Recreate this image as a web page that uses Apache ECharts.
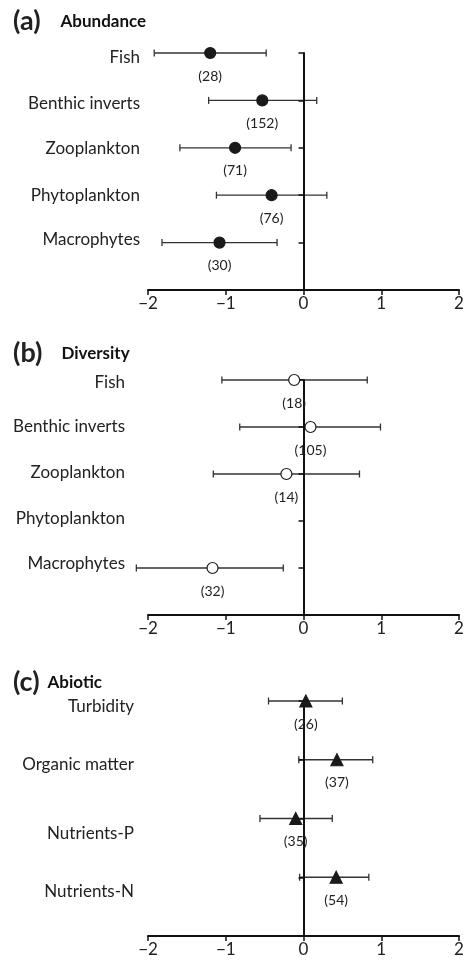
<!DOCTYPE html>
<html><head><meta charset="utf-8">
<script src="https://cdn.jsdelivr.net/npm/echarts@6/dist/echarts.min.js"></script>
<style>html,body{margin:0;padding:0;background:#fff}#c{width:464px;height:967px}</style>
</head><body><div id="c"></div>
<script>
// ---------- data ----------
const bioCategories = ['Fish', 'Benthic inverts', 'Zooplankton', 'Phytoplankton', 'Macrophytes'];
const abundanceMean = [-1.20, -0.53, -0.88, -0.41, -1.08];
const abundanceLow  = [-1.92, -1.22, -1.59, -1.12, -1.82];
const abundanceHigh = [-0.48,  0.17, -0.16,  0.30, -0.34];
const abundanceN    = [28, 152, 71, 76, 30];

const diversityMean = [-0.12,  0.09, -0.22, null, -1.17];
const diversityLow  = [-1.05, -0.82, -1.16, null, -2.15];
const diversityHigh = [ 0.82,  0.99,  0.72, null, -0.26];
const diversityN    = [18, 105, 14, null, 32];

const abioticCategories = ['Turbidity', 'Organic matter', 'Nutrients-P', 'Nutrients-N'];
const abioticMean = [0.03, 0.43, -0.10, 0.42];
const abioticLow  = [-0.45, -0.06, -0.56, -0.05];
const abioticHigh = [0.50, 0.89, 0.37, 0.84];
const abioticN    = [26, 37, 35, 54];

const xTicks = [-2, -1, 0, 1, 2];
const panelLetters = ['(a)', '(b)', '(c)'];
const panelTitles = ['Abundance', 'Diversity', 'Abiotic'];

// ---------- styles / layout ----------
const FONT = 'Lato';
const panels = [
  { cats: bioCategories, mean: abundanceMean, low: abundanceLow, high: abundanceHigh, n: abundanceN,
    top: 53, height: 237, labelMargin: 8, shifts: [5, 3, 1, 0, -3],
    symbol: 'circle', size: 11, fill: '#1a1a1a', stroke: '#1a1a1a', titleTop: 3, titleGap: 20 },
  { cats: bioCategories, mean: diversityMean, low: diversityLow, high: diversityHigh, n: diversityN,
    top: 380, height: 235, labelMargin: 23, shifts: [3, 0, -1, -2, -4],
    symbol: 'circle', size: 11, fill: '#ffffff', stroke: '#1a1a1a', titleTop: 335, titleGap: 19 },
  { cats: abioticCategories, mean: abioticMean, low: abioticLow, high: abioticHigh, n: abioticN,
    top: 701, height: 235, labelMargin: 14, shifts: [6, 5, 15, 14],
    symbol: 'triangle', size: 12, fill: '#1a1a1a', stroke: '#1a1a1a', titleTop: 664, titleGap: 8 }
];

const grid = [], xAxis = [], yAxis = [], series = [], title = [];

panels.forEach((p, gi) => {
  const nCat = p.cats.length;
  grid.push({ left: 148, width: 311, top: p.top, height: p.height, containLabel: false, outerBoundsMode: 'none' });
  xAxis.push({
    type: 'value', gridIndex: gi, min: xTicks[0], max: xTicks[xTicks.length - 1], interval: 1,
    axisLine: { onZero: false, lineStyle: { color: '#111', width: 2 } },
    axisTick: { show: true, length: 5, lineStyle: { color: '#111', width: 1.5 } },
    splitLine: { show: false },
    axisLabel: { margin: 5, color: '#222', fontSize: 17, fontFamily: FONT,
      formatter: v => (v < 0 ? '\u2212' + Math.abs(v) : String(v)) }
  });
  // the zero line axis with ticks at each row
  yAxis.push({
    type: 'value', gridIndex: gi, min: 0, max: nCat, interval: 1, z: 3,
    axisLine: { show: true, onZero: true, lineStyle: { color: '#111', width: 2 } },
    axisTick: { show: true, length: 5, lineStyle: { color: '#111', width: 1.5 } },
    splitLine: { show: false },
    axisLabel: { show: false }
  });
  // label-only axis at the left edge of the plot
  const rich = {};
  p.shifts.forEach((d, i) => {
    rich['s' + i] = { fontSize: 17, fontFamily: FONT, color: '#222',
      padding: d >= 0 ? [2 * d, 0, 0, 0] : [0, 0, -2 * d, 0] };
  });
  yAxis.push({
    type: 'value', gridIndex: gi, min: 0, max: nCat, interval: 1, position: 'left',
    axisLine: { show: false, onZero: false }, axisTick: { show: false }, splitLine: { show: false },
    axisLabel: { show: true, margin: p.labelMargin, rich, showMinLabel: true, showMaxLabel: true,
      formatter: v => {
        if (v < 1 || v > nCat) return '';
        const i = nCat - v;
        return '{s' + i + '|' + p.cats[i] + '}';
      } }
  });
  const barData = [], ptData = [];
  p.cats.forEach((c, i) => {
    if (p.mean[i] == null) return;
    barData.push([p.low[i], p.high[i], nCat - i]);
    ptData.push({ value: [p.mean[i], nCat - i], n: p.n[i] });
  });
  const yIdx = gi * 2;
  series.push({
    type: 'custom', xAxisIndex: gi, yAxisIndex: yIdx, z: 2, clip: false,
    data: barData,
    renderItem: (params, api) => {
      const a = api.coord([api.value(0), api.value(2)]);
      const b = api.coord([api.value(1), api.value(2)]);
      const h = 3.5;
      const st = { stroke: '#333', lineWidth: 1.3 };
      return { type: 'group', children: [
        { type: 'line', shape: { x1: a[0], y1: a[1], x2: b[0], y2: b[1] }, style: st },
        { type: 'line', shape: { x1: a[0], y1: a[1] - h, x2: a[0], y2: a[1] + h }, style: st },
        { type: 'line', shape: { x1: b[0], y1: b[1] - h, x2: b[0], y2: b[1] + h }, style: st }
      ] };
    }
  });
  series.push({
    type: 'scatter', xAxisIndex: gi, yAxisIndex: yIdx, z: 4,
    symbol: p.symbol, symbolSize: p.size,
    itemStyle: { color: p.fill, borderColor: p.stroke, borderWidth: 1.2, opacity: 1 },
    data: ptData,
    label: { show: true, position: 'inside', offset: [0, 23], color: '#222',
      fontSize: 14, fontFamily: FONT,
      formatter: prm => '(' + prm.data.n + ')' },
    emphasis: { disabled: true }
  });
  title.push({
    left: 8, top: p.titleTop,
    text: '{l|' + panelLetters[gi] + '}{t|' + panelTitles[gi] + '}',
    textStyle: { rich: {
      l: { fontSize: 27, fontWeight: 'bold', fontFamily: FONT, color: '#222' },
      t: { fontSize: 17, fontWeight: 'bold', fontFamily: FONT, color: '#111', padding: [0, 0, 0, p.titleGap] }
    } }
  });
});

const chart = echarts.init(document.getElementById('c'));
chart.setOption({ animation: false, backgroundColor: '#fff', title, grid, xAxis, yAxis, series });
</script>
</body></html>
